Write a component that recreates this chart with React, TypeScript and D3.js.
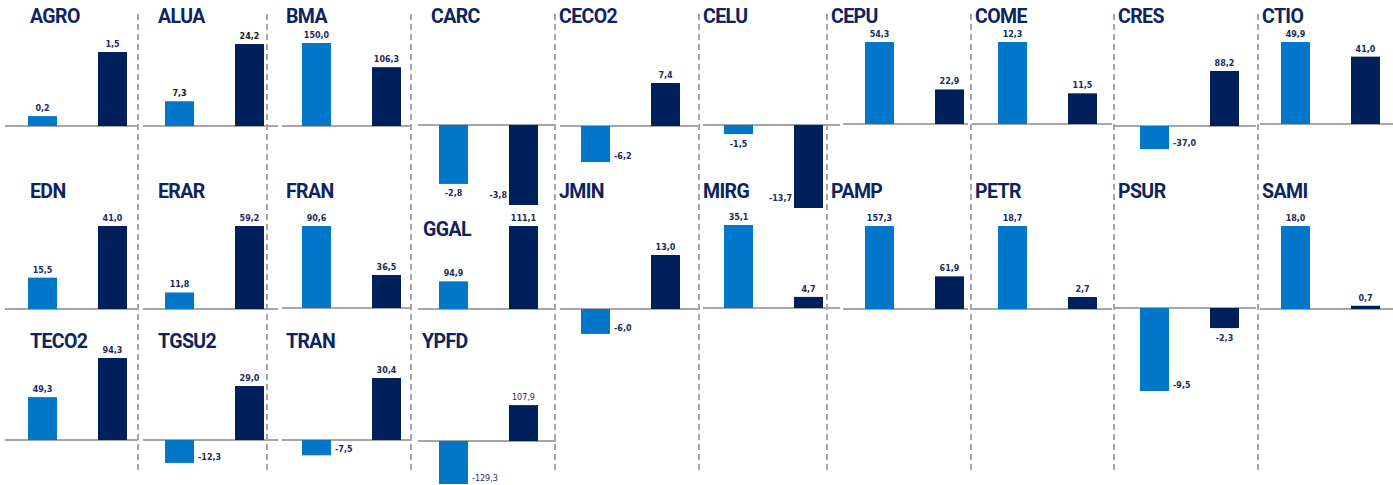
import { useEffect, useRef } from 'react'
import * as d3 from 'd3'

// tickers and the two series shown in each small chart
const tickers = ['AGRO', 'ALUA', 'BMA', 'CARC', 'CECO2', 'CELU', 'CEPU', 'COME', 'CRES', 'CTIO',
  'EDN', 'ERAR', 'FRAN', 'GGAL', 'JMIN', 'MIRG', 'PAMP', 'PETR', 'PSUR', 'SAMI',
  'TECO2', 'TGSU2', 'TRAN', 'YPFD']
const serieA = [0.2, 7.3, 150.0, -2.8, -6.2, -1.5, 54.3, 12.3, -37.0, 49.9,
  15.5, 11.8, 90.6, 94.9, -6.0, 35.1, 157.3, 18.7, -9.5, 18.0,
  49.3, -12.3, -7.5, -129.3]
const serieB = [1.5, 24.2, 106.3, -3.8, 7.4, -13.7, 22.9, 11.5, 88.2, 41.0,
  41.0, 59.2, 36.5, 111.1, 13.0, 4.7, 61.9, 2.7, -2.3, 0.7,
  94.3, 29.0, 30.4, 107.9]
// in the source two bars are not drawn at their labelled height
const drawnAs: Record<string, [number, number]> = {
  COME: [12.3, 4.6],
  GGAL: [37.0, 111.1],
}

const series = ['a', 'b']
const COLORS = ['#0077C8', '#00205B']

// layout: column, baseline y, title baseline y, px for the largest bar
const cols = [
  { left: 7.5, x0: 5, x1: 138, title: 30 },
  { left: 144.5, x0: 143, x1: 278, title: 158 },
  { left: 281.5, x0: 282, x1: 412, title: 286 },
  { left: 418.5, x0: 418, x1: 556, title: 431 },
  { left: 560.5, x0: 560, x1: 698, title: 559 },
  { left: 703.5, x0: 703, x1: 840, title: 703 },
  { left: 844.5, x0: 843, x1: 968, title: 831 },
  { left: 977.5, x0: 972, x1: 1112, title: 975 },
  { left: 1119.5, x0: 1115, x1: 1256, title: 1118 },
  { left: 1260.5, x0: 1260, x1: 1393, title: 1262 },
]
const panelCol = [0, 1, 2, 3, 4, 5, 6, 7, 8, 9, 0, 1, 2, 3, 4, 5, 6, 7, 8, 9, 0, 1, 2, 3]
const baseY = [126, 126, 126, 125, 126, 125, 124, 124, 126, 124,
  309, 309, 308, 309, 309, 308, 309, 309, 308, 309,
  440, 440, 440, 441]
const titleY = [23, 23, 23, 23, 23, 23, 23, 23, 23, 23,
  198, 198, 198, 236, 198, 198, 198, 198, 198, 198,
  348, 348, 348, 348]
const span = [74, 82, 83, 80, 43, 83, 82, 82, 55, 82,
  83, 83, 82, 83, 54, 83, 83, 83, 83, 83,
  82, 54, 62, 43]
const titleXOverride: Record<string, number> = { GGAL: 423, YPFD: 422 }
// where negative labels sit
const negPlace: Record<string, string[]> = {
  CARC: ['below', 'left'],
  CELU: ['below', 'left'],
  PSUR: ['right', 'below'],
}

const separators = [138, 267, 411, 555, 699, 827, 971, 1114, 1258]

const fmt = (v: number) => d3.format('.1f')(v).replace('.', ',').replace('\u2212', '-')

export default function App() {
  const svgRef = useRef<SVGSVGElement>(null)

  useEffect(() => {
    if (!svgRef.current) return
    const svg = d3.select(svgRef.current)
    svg.selectAll('*').remove()

    // dashed separators
    svg.selectAll('.sep')
      .data(separators)
      .enter()
      .append('line')
      .attr('x1', d => d)
      .attr('x2', d => d)
      .attr('y1', 14)
      .attr('y2', 474)
      .attr('stroke', '#A6A6A6')
      .attr('stroke-width', 2)
      .attr('stroke-dasharray', '6 4')

    tickers.forEach((t, i) => {
      const col = cols[panelCol[i]]
      const vals = [serieA[i], serieB[i]]
      const drawn = drawnAs[t] || vals
      const maxAbs = d3.max(drawn, d => Math.abs(d)) || 1
      const base = baseY[i]

      const x = d3.scaleBand()
        .domain(series)
        .range([col.left, col.left + 140])
        .paddingInner(0.5857)
        .paddingOuter(0.293)
      const y = d3.scaleLinear()
        .domain([-maxAbs, maxAbs])
        .range([base + span[i], base - span[i]])

      const g = svg.append('g')

      // title
      g.append('text')
        .attr('x', titleXOverride[t] ?? col.title)
        .attr('y', titleY[i])
        .attr('font-family', '"Liberation Sans Narrow", Roboto, sans-serif')
        .attr('font-weight', 700)
        .attr('font-size', 19.5)
        .attr('letter-spacing', -0.6)
        .attr('fill', '#0C2461')
        .text(t)

      // baseline
      g.append('line')
        .attr('x1', col.x0)
        .attr('x2', col.x1)
        .attr('y1', y(0))
        .attr('y2', y(0))
        .attr('stroke', '#A6A6A6')
        .attr('stroke-width', 2)

      series.forEach((s, k) => {
        const v = drawn[k]
        const bx = x(s)!
        const bw = x.bandwidth()
        g.append('rect')
          .attr('x', bx)
          .attr('y', Math.min(y(v), y(0)))
          .attr('width', bw)
          .attr('height', Math.abs(y(v) - y(0)))
          .attr('fill', COLORS[k])

        const label = g.append('text')
          .attr('font-family', '"DejaVu Sans", Verdana, sans-serif')
          .attr('font-weight', t === 'YPFD' ? 400 : 700)
          .attr('font-size', 8)
          .attr('fill', t === 'ALUA' ? '#1a1a1a' : '#1B2B5E')
          .text(fmt(vals[k]))

        if (v >= 0) {
          label.attr('x', bx + bw / 2).attr('y', y(v) - 5).attr('text-anchor', 'middle')
        } else {
          const place = (negPlace[t] || [])[k] || 'right'
          if (place === 'below') {
            label.attr('x', bx + bw / 2).attr('y', y(v) + 12.5).attr('text-anchor', 'middle')
          } else if (place === 'left') {
            label.attr('x', bx - 2).attr('y', y(v) - 7).attr('text-anchor', 'end')
          } else {
            label.attr('x', bx + bw + 4).attr('y', y(v) - 3).attr('text-anchor', 'start')
          }
        }
      })
    })
  }, [])

  return (
    <svg
      ref={svgRef}
      width={1393}
      height={485}
      style={{ position: 'fixed', left: 0, top: 0, background: '#fff' }}
    />
  )
}
